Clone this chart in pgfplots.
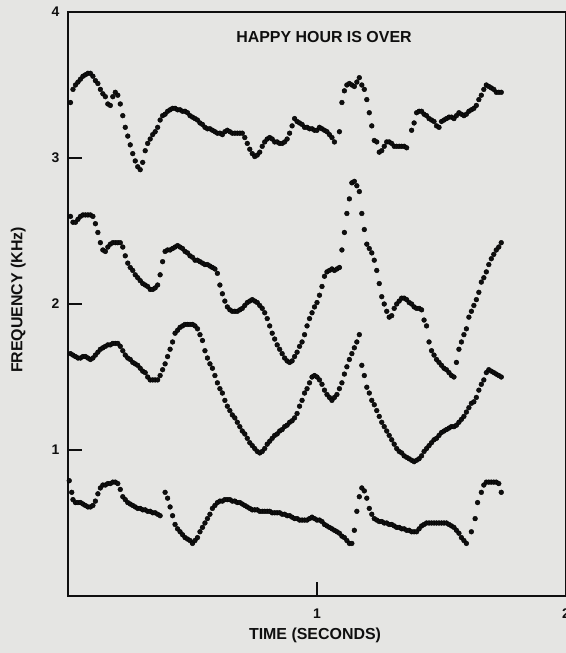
\documentclass[border=0pt]{standalone}
\usepackage{pgfplots}
\pgfplotsset{compat=1.18}
\usepackage{fontspec}
\setmainfont{Liberation Sans}
\definecolor{paper}{RGB}{229,229,227}
\definecolor{ink}{RGB}{15,15,15}
\pgfplotsset{trackdots/.style={only marks, mark=*, mark size=2.4bp, mark options={draw=none, fill=ink}}}
\begin{document}
\begin{tikzpicture}
\fill[paper] (-68bp,-57bp) rectangle (498bp,596bp);
\begin{axis}[
  at={(0,0)}, anchor=south west,
  scale only axis, width=498bp, height=584bp,
  xmin=0, xmax=2, ymin=0, ymax=4,
  xtick={1,2}, ytick={1,2,3,4},
  xtick pos=bottom, ytick pos=left,
  tick align=inside, major tick length=14bp,
  every tick/.style={ink, line width=1.4bp},
  axis line style={ink, line width=1.5bp},
  /pgf/number format/assume math mode=true,
  ticklabel style={font=\fontsize{14}{16}\selectfont\bfseries, text=ink},
  yticklabel style={xshift=-5bp},
  xticklabel style={yshift=-9bp},
  title={HAPPY HOUR IS OVER},
  title style={at={(rel axis cs:0.514,0.947)}, anchor=center, font=\fontsize{16}{18}\selectfont\bfseries, text=ink},
  xlabel={TIME (SECONDS)},
  xlabel style={at={(rel axis cs:0.496,-0.067)}, anchor=center, font=\fontsize{16}{18}\selectfont\bfseries, text=ink},
  ylabel={FREQUENCY (KHz)},
  ylabel style={at={(rel axis cs:-0.1,0.507)}, anchor=center, font=\fontsize{16}{18}\selectfont\bfseries, text=ink},
]
% F4
\addplot[trackdots] coordinates {
(0.01,3.38)(0.02,3.47)(0.03,3.50)(0.04,3.52)(0.05,3.54)(0.06,3.56)(0.07,3.57)(0.08,3.58)(0.09,3.58)(0.10,3.56)
(0.11,3.53)(0.12,3.51)(0.13,3.47)(0.14,3.44)(0.15,3.42)(0.16,3.37)(0.17,3.36)(0.18,3.42)(0.19,3.45)(0.20,3.43)
(0.21,3.37)(0.22,3.29)(0.23,3.21)(0.24,3.15)(0.25,3.09)(0.26,3.03)(0.27,2.98)(0.28,2.94)(0.29,2.92)(0.30,2.97)
(0.31,3.05)(0.32,3.10)(0.33,3.13)(0.34,3.16)(0.35,3.18)(0.36,3.21)(0.37,3.26)(0.38,3.29)(0.39,3.30)(0.40,3.32)
(0.41,3.33)(0.42,3.34)(0.43,3.34)(0.44,3.33)(0.45,3.33)(0.46,3.32)(0.47,3.32)(0.48,3.31)(0.49,3.29)(0.50,3.28)
(0.51,3.27)(0.52,3.26)(0.53,3.24)(0.54,3.23)(0.55,3.21)(0.56,3.20)(0.57,3.20)(0.58,3.19)(0.59,3.18)(0.60,3.17)
(0.61,3.17)(0.62,3.16)(0.63,3.18)(0.64,3.19)(0.65,3.18)(0.66,3.17)(0.67,3.17)(0.68,3.17)(0.69,3.17)(0.70,3.17)
(0.71,3.14)(0.72,3.10)(0.73,3.06)(0.74,3.03)(0.75,3.01)(0.76,3.02)(0.77,3.04)(0.78,3.08)(0.79,3.11)(0.80,3.13)
(0.81,3.14)(0.82,3.13)(0.83,3.11)(0.84,3.11)(0.85,3.10)(0.86,3.10)(0.87,3.11)(0.88,3.13)(0.89,3.17)(0.90,3.22)
(0.91,3.27)(0.92,3.25)(0.93,3.24)(0.94,3.23)(0.95,3.21)(0.96,3.21)(0.97,3.20)(0.98,3.20)(0.99,3.19)(1.00,3.19)
(1.01,3.21)(1.02,3.20)(1.03,3.19)(1.04,3.18)(1.05,3.16)(1.06,3.14)(1.07,3.11)(1.09,3.18)
(1.10,3.38)(1.11,3.46)(1.12,3.50)(1.13,3.51)(1.14,3.50)(1.15,3.49)(1.16,3.52)(1.17,3.55)(1.18,3.50)(1.19,3.47)
(1.20,3.40)(1.21,3.31)(1.22,3.22)(1.23,3.12)(1.24,3.11)(1.25,3.04)(1.26,3.05)(1.27,3.08)(1.28,3.11)(1.29,3.11)
(1.30,3.10)(1.31,3.08)(1.32,3.08)(1.33,3.08)(1.34,3.08)(1.35,3.08)(1.36,3.07)
(1.38,3.19)(1.39,3.24)(1.40,3.31)(1.41,3.32)(1.42,3.32)(1.43,3.30)(1.44,3.29)(1.45,3.27)(1.46,3.26)(1.47,3.25)
(1.48,3.22)(1.49,3.21)(1.50,3.25)(1.51,3.26)(1.52,3.27)(1.53,3.28)(1.54,3.28)(1.55,3.27)(1.56,3.29)(1.57,3.31)
(1.58,3.30)(1.59,3.29)(1.60,3.30)(1.61,3.32)(1.62,3.33)(1.63,3.34)(1.64,3.36)(1.65,3.40)(1.66,3.43)(1.67,3.47)
(1.68,3.50)(1.69,3.49)(1.70,3.48)(1.71,3.47)(1.72,3.45)(1.73,3.45)(1.74,3.45)
};
% F3
\addplot[trackdots] coordinates {
(0.01,2.60)(0.02,2.56)(0.03,2.56)(0.04,2.58)(0.05,2.60)(0.06,2.61)(0.07,2.61)(0.08,2.61)(0.09,2.61)(0.10,2.60)
(0.11,2.55)(0.12,2.49)(0.13,2.42)(0.14,2.37)(0.15,2.36)(0.16,2.39)(0.17,2.41)(0.18,2.42)(0.19,2.42)(0.20,2.42)
(0.21,2.42)(0.22,2.39)(0.23,2.33)(0.24,2.28)(0.25,2.25)(0.26,2.23)(0.27,2.20)(0.28,2.18)(0.29,2.16)(0.30,2.14)
(0.31,2.13)(0.32,2.12)(0.33,2.10)(0.34,2.10)(0.35,2.11)(0.36,2.13)(0.37,2.20)(0.38,2.29)(0.39,2.36)(0.40,2.37)
(0.41,2.37)(0.42,2.38)(0.43,2.39)(0.44,2.40)(0.45,2.39)(0.46,2.38)(0.47,2.36)(0.48,2.35)(0.49,2.33)(0.50,2.32)
(0.51,2.30)(0.52,2.30)(0.53,2.29)(0.54,2.28)(0.55,2.27)(0.56,2.27)(0.57,2.26)(0.58,2.25)(0.59,2.24)(0.60,2.21)
(0.61,2.13)(0.62,2.07)(0.63,2.02)(0.64,1.98)(0.65,1.96)(0.66,1.95)(0.67,1.95)(0.68,1.95)(0.69,1.96)(0.70,1.97)
(0.71,1.99)(0.72,2.01)(0.73,2.02)(0.74,2.03)(0.75,2.02)(0.76,2.01)(0.77,1.99)(0.78,1.97)(0.79,1.94)(0.80,1.90)
(0.81,1.85)(0.82,1.80)(0.83,1.76)(0.84,1.72)(0.85,1.69)(0.86,1.66)(0.87,1.63)(0.88,1.61)(0.89,1.60)(0.90,1.61)
(0.91,1.64)(0.92,1.67)(0.93,1.71)(0.94,1.74)(0.95,1.79)(0.96,1.85)(0.97,1.90)(0.98,1.94)(0.99,1.98)(1.00,2.01)
(1.01,2.06)(1.02,2.12)(1.03,2.19)(1.04,2.22)(1.05,2.23)(1.06,2.24)(1.07,2.23)(1.08,2.24)(1.09,2.25)(1.10,2.37)
(1.11,2.49)(1.12,2.62)(1.13,2.72)(1.14,2.83)(1.15,2.84)(1.16,2.81)(1.17,2.77)(1.18,2.62)(1.19,2.51)(1.20,2.41)
(1.21,2.38)(1.22,2.35)(1.23,2.30)(1.24,2.23)(1.25,2.14)(1.26,2.05)(1.27,2.00)(1.28,1.95)(1.29,1.91)(1.30,1.92)
(1.31,1.97)(1.32,2.00)(1.33,2.02)(1.34,2.04)(1.35,2.04)(1.36,2.03)(1.37,2.01)(1.38,2.00)(1.39,1.98)(1.40,1.97)
(1.41,1.97)(1.42,1.96)(1.43,1.89)(1.44,1.85)(1.45,1.74)(1.46,1.68)(1.47,1.65)(1.48,1.62)(1.49,1.60)(1.50,1.58)
(1.51,1.56)(1.52,1.55)(1.53,1.53)(1.54,1.51)(1.55,1.50)(1.56,1.60)(1.57,1.69)(1.58,1.74)(1.59,1.79)(1.60,1.83)
(1.61,1.91)(1.62,1.95)(1.63,1.99)(1.64,2.03)(1.65,2.08)(1.66,2.15)(1.67,2.18)(1.68,2.22)(1.69,2.27)(1.70,2.31)
(1.71,2.34)(1.72,2.37)(1.73,2.39)(1.74,2.42)
};
% F2
\addplot[trackdots] coordinates {
(0.01,1.66)(0.02,1.65)(0.03,1.64)(0.04,1.63)(0.05,1.63)(0.06,1.64)(0.07,1.64)(0.08,1.63)(0.09,1.62)(0.10,1.63)
(0.11,1.65)(0.12,1.67)(0.13,1.69)(0.14,1.70)(0.15,1.71)(0.16,1.72)(0.17,1.72)(0.18,1.73)(0.19,1.73)(0.20,1.73)
(0.21,1.71)(0.22,1.68)(0.23,1.65)(0.24,1.63)(0.25,1.62)(0.26,1.60)(0.27,1.59)(0.28,1.58)(0.29,1.56)(0.30,1.54)
(0.31,1.53)(0.32,1.50)(0.33,1.48)(0.34,1.48)(0.35,1.48)(0.36,1.48)(0.37,1.51)(0.38,1.55)(0.39,1.59)(0.40,1.64)
(0.41,1.69)(0.42,1.74)(0.43,1.80)(0.44,1.82)(0.45,1.84)(0.46,1.85)(0.47,1.86)(0.48,1.86)(0.49,1.86)(0.50,1.86)
(0.51,1.85)(0.52,1.83)(0.53,1.79)(0.54,1.75)(0.55,1.68)(0.56,1.63)(0.57,1.59)(0.58,1.56)(0.59,1.51)(0.60,1.46)
(0.61,1.42)(0.62,1.39)(0.63,1.34)(0.64,1.30)(0.65,1.27)(0.66,1.24)(0.67,1.22)(0.68,1.19)(0.69,1.16)(0.70,1.13)
(0.71,1.11)(0.72,1.08)(0.73,1.05)(0.74,1.03)(0.75,1.01)(0.76,0.99)(0.77,0.98)(0.78,0.99)(0.79,1.01)(0.80,1.04)
(0.81,1.06)(0.82,1.08)(0.83,1.10)(0.84,1.11)(0.85,1.13)(0.86,1.14)(0.87,1.16)(0.88,1.17)(0.89,1.19)(0.90,1.20)
(0.91,1.22)(0.92,1.25)(0.93,1.30)(0.94,1.34)(0.95,1.39)(0.96,1.42)(0.97,1.46)(0.98,1.50)(0.99,1.51)(1.00,1.50)
(1.01,1.48)(1.02,1.45)(1.03,1.41)(1.04,1.38)(1.05,1.36)(1.06,1.34)(1.07,1.36)(1.08,1.38)(1.09,1.42)(1.10,1.46)
(1.11,1.52)(1.12,1.57)(1.13,1.62)(1.14,1.66)(1.15,1.70)(1.16,1.74)(1.17,1.79)
(1.18,1.58)(1.19,1.51)(1.20,1.43)(1.21,1.39)(1.22,1.34)(1.23,1.31)(1.24,1.27)(1.25,1.23)(1.26,1.19)(1.27,1.16)
(1.28,1.13)(1.29,1.10)(1.30,1.07)(1.31,1.04)(1.32,1.01)(1.33,0.99)(1.34,0.98)(1.35,0.96)(1.36,0.95)(1.37,0.94)
(1.38,0.93)(1.39,0.92)(1.40,0.93)(1.41,0.94)(1.42,0.96)(1.43,0.99)(1.44,1.01)(1.45,1.03)(1.46,1.05)(1.47,1.07)
(1.48,1.08)(1.49,1.10)(1.50,1.12)(1.51,1.13)(1.52,1.14)(1.53,1.15)(1.54,1.16)(1.55,1.16)(1.56,1.17)(1.57,1.19)
(1.58,1.21)(1.59,1.23)(1.60,1.26)(1.61,1.29)(1.62,1.32)(1.63,1.33)(1.64,1.36)(1.65,1.41)(1.66,1.45)(1.67,1.48)
(1.68,1.53)(1.69,1.55)(1.70,1.54)(1.71,1.53)(1.72,1.52)(1.73,1.51)(1.74,1.50)
};
% F1
\addplot[trackdots] coordinates {
(0.005,0.79)(0.015,0.71)(0.02,0.66)(0.03,0.64)(0.04,0.64)(0.05,0.64)(0.06,0.63)(0.07,0.62)(0.08,0.61)(0.09,0.61)
(0.10,0.62)(0.11,0.65)(0.12,0.70)(0.13,0.74)(0.14,0.76)(0.15,0.76)(0.16,0.77)(0.17,0.77)(0.18,0.78)(0.19,0.78)
(0.20,0.77)(0.21,0.73)(0.22,0.68)(0.23,0.66)(0.24,0.64)(0.25,0.63)(0.26,0.62)(0.27,0.61)(0.28,0.60)(0.29,0.60)
(0.30,0.59)(0.31,0.59)(0.32,0.58)(0.33,0.58)(0.34,0.57)(0.35,0.57)(0.36,0.56)(0.37,0.55)
(0.39,0.71)(0.40,0.67)(0.41,0.61)(0.42,0.55)(0.43,0.49)(0.44,0.46)(0.45,0.44)(0.46,0.42)(0.47,0.40)(0.48,0.39)
(0.49,0.38)(0.50,0.36)(0.51,0.38)(0.52,0.40)(0.53,0.44)(0.54,0.47)(0.55,0.50)(0.56,0.53)(0.57,0.56)(0.58,0.60)
(0.59,0.62)(0.60,0.64)(0.61,0.65)(0.62,0.65)(0.63,0.66)(0.64,0.66)(0.65,0.66)(0.66,0.65)(0.67,0.65)(0.68,0.64)
(0.69,0.64)(0.70,0.63)(0.71,0.62)(0.72,0.61)(0.73,0.60)(0.74,0.59)(0.75,0.59)(0.76,0.59)(0.77,0.58)(0.78,0.58)
(0.79,0.58)(0.80,0.58)(0.81,0.58)(0.82,0.57)(0.83,0.57)(0.84,0.57)(0.85,0.57)(0.86,0.56)(0.87,0.56)(0.88,0.55)
(0.89,0.55)(0.90,0.54)(0.91,0.53)(0.92,0.53)(0.93,0.52)(0.94,0.52)(0.95,0.52)(0.96,0.52)(0.97,0.53)(0.98,0.54)
(0.99,0.53)(1.00,0.52)(1.01,0.52)(1.02,0.51)(1.03,0.49)(1.04,0.48)(1.05,0.47)(1.06,0.46)(1.07,0.45)(1.08,0.44)
(1.09,0.43)(1.10,0.41)(1.11,0.40)(1.12,0.38)(1.13,0.36)(1.14,0.36)
(1.15,0.45)(1.16,0.58)(1.17,0.68)(1.18,0.74)(1.19,0.72)(1.20,0.67)(1.21,0.60)(1.22,0.56)(1.23,0.53)(1.24,0.52)
(1.25,0.51)(1.26,0.51)(1.27,0.50)(1.28,0.50)(1.29,0.49)(1.30,0.49)(1.31,0.48)(1.32,0.47)(1.33,0.47)(1.34,0.46)
(1.35,0.46)(1.36,0.45)(1.37,0.45)(1.38,0.44)(1.39,0.44)(1.40,0.44)(1.41,0.46)(1.42,0.48)(1.43,0.49)(1.44,0.50)
(1.45,0.50)(1.46,0.50)(1.47,0.50)(1.48,0.50)(1.49,0.50)(1.50,0.50)(1.51,0.50)(1.52,0.50)(1.53,0.49)(1.54,0.48)
(1.55,0.47)(1.56,0.45)(1.57,0.43)(1.58,0.40)(1.59,0.38)(1.60,0.36)
(1.62,0.44)(1.635,0.53)(1.645,0.64)(1.66,0.71)(1.67,0.76)(1.68,0.78)(1.69,0.78)(1.70,0.78)(1.71,0.78)(1.72,0.78)
(1.73,0.77)(1.74,0.71)
};
\end{axis}
\pgfresetboundingbox
\path (-68bp,-57bp) rectangle (498bp,596bp);
\end{tikzpicture}
\end{document}
